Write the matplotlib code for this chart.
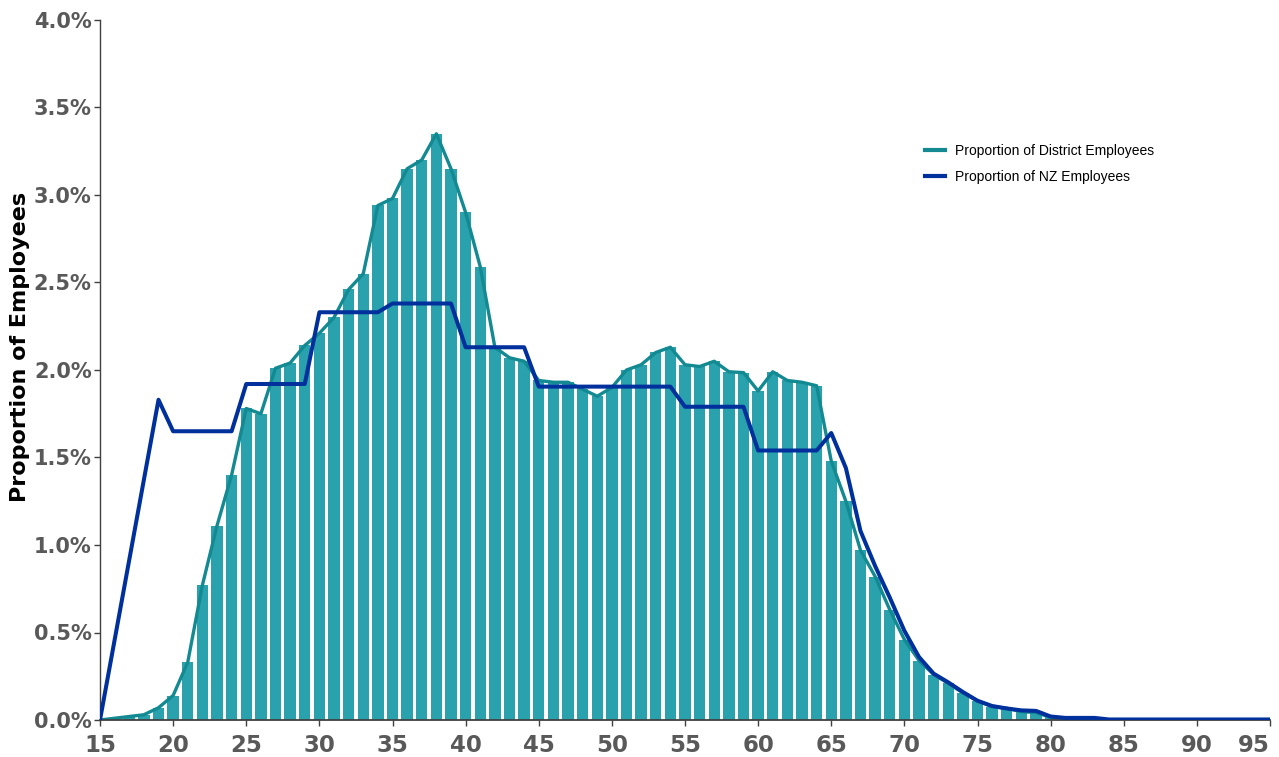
import matplotlib
matplotlib.use("Agg")
import matplotlib.pyplot as plt
from matplotlib.ticker import FuncFormatter, MultipleLocator

# ---- data (percent) ----
ages = list(range(15, 96))
district_pct = [
    0.00, 0.01, 0.02, 0.03, 0.07, 0.14, 0.33, 0.77, 1.11, 1.40,   # 15-24
    1.78, 1.75, 2.01, 2.04, 2.14, 2.21, 2.30, 2.46, 2.55, 2.94,   # 25-34
    2.98, 3.15, 3.20, 3.35, 3.15, 2.90, 2.59, 2.13, 2.07, 2.05,   # 35-44
    1.94, 1.93, 1.93, 1.89, 1.85, 1.90, 2.00, 2.03, 2.10, 2.13,   # 45-54
    2.03, 2.02, 2.05, 1.99, 1.985, 1.88, 1.99, 1.94, 1.93, 1.91,  # 55-64
    1.48, 1.25, 0.97, 0.82, 0.63, 0.46, 0.34, 0.26, 0.21, 0.155,  # 65-74
    0.11, 0.076, 0.067, 0.048, 0.042, 0.015, 0.005, 0.0, 0.0, 0.0,  # 75-84
    0.0, 0.0, 0.0, 0.0, 0.0, 0.0, 0.0, 0.0, 0.0, 0.0, 0.0,        # 85-95
]
nz_age = [15, 19, 20, 24, 25, 29, 30, 34, 35, 39, 40, 44, 45, 54, 55, 59,
          60, 64, 65, 66, 67, 68, 69, 70, 71, 72, 73, 74, 75, 76, 77, 78,
          79, 80, 81, 82, 83, 84, 95]
nz_pct = [0.0, 1.83, 1.65, 1.65, 1.92, 1.92, 2.33, 2.33, 2.38, 2.38, 2.13, 2.13,
          1.905, 1.905, 1.79, 1.79, 1.54, 1.54, 1.64, 1.44, 1.08, 0.88, 0.70,
          0.51, 0.36, 0.265, 0.215, 0.16, 0.11, 0.08, 0.066, 0.055, 0.052,
          0.02, 0.012, 0.012, 0.012, 0.003, 0.003]
x_ticks = list(range(15, 96, 5))
y_label = "Proportion of Employees"
legend_labels = ["Proportion of District Employees", "Proportion of NZ Employees"]

district = [v / 100 for v in district_pct]
nz = [v / 100 for v in nz_pct]

# ---- figure ----
fig = plt.figure(figsize=(12.79, 7.57), dpi=100)
ax = fig.add_axes([100 / 1279, 37 / 757, 1170 / 1279, 700 / 757])

bar_color = "#2AA2AD"
dist_line_color = "#138A92"
nz_color = "#00309C"

ax.bar(ages, district, width=0.78, color=bar_color, zorder=1)
l1, = ax.plot(ages, district, color=dist_line_color, lw=2.4, zorder=2,
              solid_joinstyle="round")
l2, = ax.plot(nz_age, nz, color=nz_color, lw=2.9, zorder=3,
              solid_joinstyle="round")

ax.set_xlim(15, 95)
ax.set_ylim(0, 0.04)
ax.set_xticks(x_ticks)
ax.yaxis.set_major_locator(MultipleLocator(0.005))
ax.yaxis.set_major_formatter(FuncFormatter(lambda v, p: f"{v*100:.1f}%"))

for s in ["top", "right"]:
    ax.spines[s].set_visible(False)
ax.spines["left"].set_color("#404040")
ax.spines["left"].set_linewidth(1.0)
ax.spines["bottom"].set_color("#404040")
ax.spines["bottom"].set_linewidth(1.3)

ax.tick_params(axis="both", direction="out", length=4, width=1, color="#404040",
               labelcolor="#595959")
ax.tick_params(axis="y", labelsize=15, pad=2)
ax.tick_params(axis="x", labelsize=16.5, pad=6)
for lab in ax.get_xticklabels() + ax.get_yticklabels():
    lab.set_fontweight("bold")
    lab.set_fontfamily("DejaVu Sans")
xlabs = ax.get_xticklabels()
xlabs[-1].set_horizontalalignment("right")

ax.set_ylabel(y_label, fontsize=16, fontweight="bold", color="black",
              family="DejaVu Sans")
ax.yaxis.set_label_coords((30 - 100) / 1170, (720 - 347) / 700)

leg = ax.legend([l1, l2], legend_labels, loc="center left",
                bbox_to_anchor=((925 - 100) / 1170, (720 - 164) / 700),
                frameon=False, borderpad=0, borderaxespad=0,
                handlelength=1.45, handletextpad=0.7, labelspacing=0.85,
                prop={"family": "Liberation Sans", "size": 10})
for h in leg.get_lines():
    h.set_linewidth(3.0)

fig.savefig("out.png", dpi=100)
